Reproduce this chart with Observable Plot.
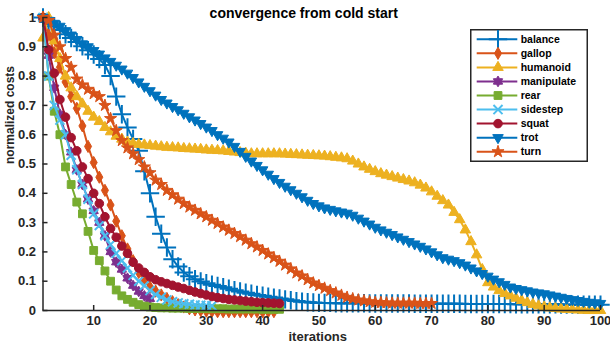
<!DOCTYPE html>
<html><head><meta charset="utf-8">
<script src="https://cdn.jsdelivr.net/npm/d3@7"></script>
<script src="https://cdn.jsdelivr.net/npm/@observablehq/plot@0.6"></script>
<style>
body{margin:0;background:#fff;}
#wrap{position:relative;width:610px;height:346px;font-family:"Liberation Sans",Arial,sans-serif;}
#legend{position:absolute;left:470px;top:29px;}
</style></head><body><div id="wrap"></div>
<script>
const titleText = "convergence from cold start";
const xLabel = "iterations";
const yLabel = "normalized costs";
const xTicks = [10,20,30,40,50,60,70,80,90,100];
const yTicks = [0,0.1,0.2,0.3,0.4,0.5,0.6,0.7,0.8,0.9,1];
const yTickLabels = ["0","0.1","0.2","0.3","0.4","0.5","0.6","0.7","0.8","0.9","1"];
const seriesNames = ["balance","gallop","humanoid","manipulate","rear","sidestep","squat","trot","turn"];
const seriesColors = ["#0072BD","#D95319","#EDB120","#7E2F8E","#77AC30","#4DBEEE","#A2142F","#0072BD","#D95319"];

const balance = [1.000,0.985,0.970,0.957,0.943,0.930,0.916,0.902,0.888,0.874,
0.858,0.838,0.800,0.730,0.670,0.625,0.585,0.545,0.475,0.400,
0.320,0.262,0.215,0.175,0.150,0.130,0.117,0.107,0.099,0.093,
0.088,0.084,0.079,0.074,0.069,0.065,0.061,0.057,0.053,0.050,
0.047,0.044,0.041,0.038,0.035,0.032,0.030,0.028,0.027,0.026,
0.026,0.026,0.025,0.025,0.025,0.025,0.025,0.025,0.024,0.024,
0.024,0.024,0.024,0.024,0.024,0.024,0.023,0.023,0.023,0.023,
0.023,0.023,0.023,0.023,0.023,0.022,0.022,0.022,0.022,0.022,
0.022,0.022,0.022,0.022,0.021,0.021,0.021,0.021,0.021,0.021,
0.021,0.021,0.020,0.020,0.020,0.020,0.020,0.020,0.020,0.020];
const gallop = [1.000,0.940,0.880,0.830,0.780,0.730,0.690,0.630,0.560,0.505,
0.455,0.410,0.360,0.305,0.255,0.210,0.170,0.130,0.100,0.080,
0.066,0.053,0.041,0.030,0.020,0.012,0.006,0.002,0.000,-0.002,
-0.003,-0.004,-0.004,-0.004,-0.004,-0.004,-0.004,-0.004,-0.004,-0.004,
-0.004,-0.004];
const humanoid = [0.930,1.000,0.920,0.860,0.800,0.760,0.730,0.705,0.680,0.660,
0.645,0.625,0.610,0.595,0.585,0.575,0.570,0.567,0.565,0.563,
0.561,0.559,0.557,0.556,0.555,0.553,0.552,0.551,0.550,0.548,
0.547,0.546,0.545,0.543,0.541,0.539,0.537,0.535,0.535,0.535,
0.535,0.535,0.535,0.534,0.533,0.532,0.531,0.530,0.529,0.528,
0.527,0.525,0.523,0.521,0.518,0.510,0.500,0.490,0.482,0.474,
0.467,0.462,0.457,0.452,0.447,0.442,0.436,0.428,0.418,0.405,
0.390,0.375,0.360,0.335,0.310,0.275,0.235,0.190,0.140,0.095,
0.080,0.068,0.058,0.050,0.042,0.034,0.027,0.021,0.016,0.012,
0.009,0.007,0.005,0.004,0.003,0.002,0.001,0.000,0.000,0.000];
const manipulate = [1.000,0.870,0.760,0.670,0.600,0.540,0.480,0.430,0.380,0.340,
0.300,0.255,0.200,0.165,0.140,0.110,0.085,0.065,0.050,0.040];
const rear = [1.000,0.800,0.680,0.600,0.490,0.430,0.370,0.330,0.270,0.205,
0.170,0.135,0.100,0.070,0.050,0.038,0.028,0.020,0.015,0.012,
0.010,0.009,0.009,0.008,0.008,0.008,0.007,0.007,0.007,0.006,
0.006,0.006,0.006,0.005,0.005,0.005,0.005,0.005,0.005,0.004,
0.004,0.004,0.004];
const sidestep = [1.000,0.800,0.700,0.650,0.600,0.530,0.480,0.430,0.380,0.330,
0.290,0.255,0.225,0.195,0.170,0.145,0.120,0.100,0.085,0.068,
0.055,0.045,0.036,0.030,0.026,0.023,0.021,0.019,0.018,0.017,
0.016];
const squat = [1.000,0.890,0.810,0.720,0.660,0.590,0.545,0.490,0.450,0.400,
0.365,0.320,0.280,0.250,0.220,0.195,0.165,0.145,0.130,0.115,
0.105,0.098,0.092,0.086,0.080,0.075,0.069,0.063,0.058,0.053,
0.048,0.044,0.041,0.038,0.036,0.034,0.032,0.030,0.028,0.027,
0.026,0.025,0.024];
const trot = [1.000,0.990,0.980,0.970,0.955,0.940,0.925,0.910,0.900,0.887,
0.875,0.862,0.850,0.837,0.824,0.810,0.795,0.780,0.765,0.750,
0.735,0.720,0.708,0.696,0.685,0.673,0.661,0.650,0.638,0.626,
0.614,0.600,0.588,0.575,0.560,0.543,0.526,0.510,0.495,0.480,
0.465,0.450,0.437,0.424,0.412,0.400,0.388,0.376,0.365,0.357,
0.350,0.345,0.340,0.336,0.332,0.325,0.315,0.305,0.295,0.284,
0.275,0.267,0.259,0.251,0.243,0.235,0.227,0.219,0.210,0.200,
0.190,0.180,0.175,0.170,0.163,0.155,0.145,0.135,0.126,0.117,
0.107,0.098,0.089,0.080,0.075,0.071,0.067,0.063,0.060,0.057,
0.053,0.049,0.045,0.041,0.037,0.034,0.031,0.028,0.026,0.024];
const turn = [1.000,0.990,0.940,0.900,0.860,0.830,0.790,0.770,0.755,0.740,
0.730,0.700,0.655,0.614,0.580,0.555,0.535,0.515,0.490,0.470,
0.445,0.430,0.410,0.395,0.380,0.365,0.353,0.342,0.330,0.320,
0.308,0.297,0.285,0.274,0.263,0.252,0.240,0.228,0.217,0.205,
0.193,0.180,0.168,0.155,0.142,0.128,0.118,0.105,0.094,0.085,
0.076,0.068,0.060,0.052,0.045,0.040,0.036,0.033,0.030,0.028,
0.027,0.026,0.025,0.025,0.025,0.025,0.025,0.024,0.024,0.024];

const seriesValues = [balance,gallop,humanoid,manipulate,rear,sidestep,squat,trot,turn];

// custom marker shapes
const triDown = {draw(ctx, size){const y = Math.sqrt(size/(Math.sqrt(3)*3)); ctx.moveTo(0, 2*y); ctx.lineTo(-Math.sqrt(3)*y, -y); ctx.lineTo(Math.sqrt(3)*y, -y); ctx.closePath();}};
const hexagram = {draw(ctx, size){const R = Math.sqrt(size)*0.72, r = R*0.6; for(let k=0;k<12;k++){const a = Math.PI*k/6 - Math.PI/2; const rr = k%2 ? r : R; const px = rr*Math.cos(a), py = rr*Math.sin(a); if(k===0) ctx.moveTo(px,py); else ctx.lineTo(px,py);} ctx.closePath();}};

// marker specs: symbol, radius, filled
const markerSpecs = [
  {symbol:"plus", r:6, filled:false},
  {symbol:"diamond", r:3.7, filled:true},
  {symbol:"triangle", r:3.9, filled:true},
  {symbol:hexagram, r:4.2, filled:true},
  {symbol:"square", r:4.4, filled:true},
  {symbol:"times", r:4.2, filled:false},
  {symbol:"circle", r:4.3, filled:true},
  {symbol:triDown, r:3.9, filled:true},
  {symbol:"star", r:3.8, filled:true}
];

const marks = [];
seriesNames.forEach((name, si) => {
  const data = seriesValues[si].map((v,i)=>({iter:i+1, value:v}));
  const c = seriesColors[si];
  const m = markerSpecs[si];
  marks.push(Plot.line(data, {x:"iter", y:"value", stroke:c, strokeWidth:2}));
  marks.push(Plot.dot(data, {x:"iter", y:"value", symbol:m.symbol, r:m.r, stroke:c, strokeWidth: m.filled ? 1 : 2, fill: m.filled ? c : "none"}));
});

const chart = Plot.plot({
  width:610, height:346,
  marginLeft:42.5, marginRight:10, marginTop:17, marginBottom:36,
  x:{domain:[1,100]},
  y:{domain:[0,1]},
  style:{fontFamily:"'Liberation Sans', Arial, sans-serif", fontSize:"13px", fontWeight:"bold", color:"#262626", background:"#fff"},
  marks:[
    ...marks,
    Plot.ruleY([0], {stroke:"#262626", strokeWidth:1.5}),
    Plot.ruleX([1], {stroke:"#262626", strokeWidth:1.5}),
    Plot.axisX({ticks:xTicks, tickSize:-5, tickPadding:10, tickFormat:d=>String(d), label:null, stroke:"#262626", strokeWidth:1.5, fontSize:13}),
    Plot.axisY({ticks:yTicks, tickSize:-5, tickPadding:12, tickFormat:(d,i)=>yTickLabels[i], label:null, stroke:"#262626", strokeWidth:1.5, fontSize:13}),
    Plot.text([titleText], {frameAnchor:"top", dy:-9, dx:-18, text:d=>d, fontSize:14, fontWeight:"bold", fill:"#000"}),
    Plot.text([xLabel], {frameAnchor:"bottom", dy:30, dx:-4, text:d=>d, fontSize:13, fontWeight:"bold", fill:"#262626"}),
    Plot.text([yLabel], {frameAnchor:"left", rotate:-90, dx:-33, text:d=>d, fontSize:12, fontWeight:"bold", fill:"#262626"})
  ]
});
const wrap = document.getElementById("wrap");
wrap.appendChild(chart);

// legend (HTML/SVG overlay)
const lw = 118, lh = 133;
const leg = d3.select(wrap).append("svg").attr("id","legend").attr("width", lw).attr("height", lh);
leg.append("rect").attr("x",0.75).attr("y",0.75).attr("width",lw-1.5).attr("height",lh-1.5).attr("fill","#fff").attr("stroke","#262626").attr("stroke-width",1.5);
const symMap = {plus:d3.symbolPlus, diamond:d3.symbolDiamond, triangle:d3.symbolTriangle, square:d3.symbolSquare, times:d3.symbolTimes, circle:d3.symbolCircle, star:d3.symbolStar};
seriesNames.forEach((name, si) => {
  const y = 10.3 + 14.05*si;
  const c = seriesColors[si], m = markerSpecs[si];
  const g = leg.append("g");
  g.append("line").attr("x1",6.7).attr("x2",47.3).attr("y1",y).attr("y2",y).attr("stroke",c).attr("stroke-width",2);
  const st = typeof m.symbol === "string" ? symMap[m.symbol] : m.symbol;
  g.append("path").attr("transform",`translate(28,${y})`).attr("d", d3.symbol(st, Math.PI*m.r*m.r)())
    .attr("fill", m.filled ? c : "none").attr("stroke", c).attr("stroke-width", m.filled ? 1 : 2);
  g.append("text").attr("x",50.7).attr("y",y).attr("dy","0.35em").attr("font-size",10.5).attr("font-weight","bold")
    .attr("font-family","'Liberation Sans', Arial, sans-serif").attr("fill","#000").text(name);
});
</script></body></html>
